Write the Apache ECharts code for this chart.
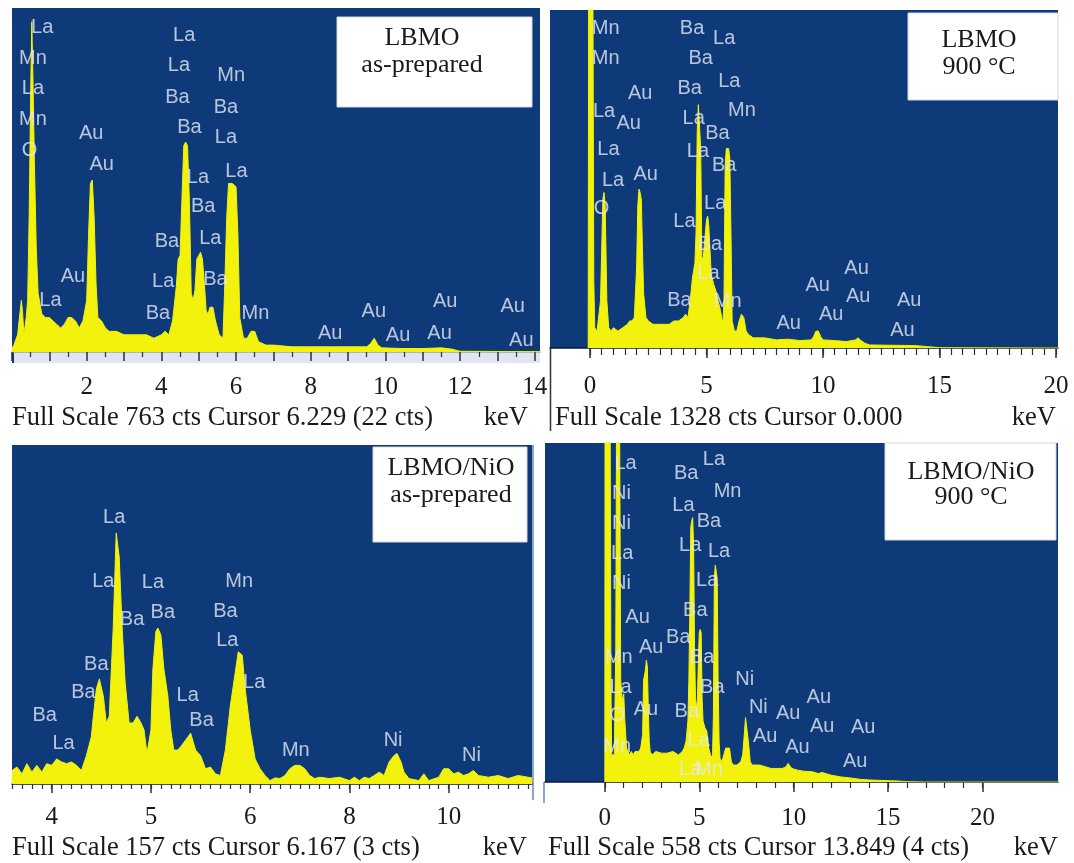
<!DOCTYPE html>
<html>
<head>
<meta charset="utf-8">
<title>EDS spectra</title>
<script src="https://cdn.jsdelivr.net/npm/echarts@6.0.0/dist/echarts.min.js"></script>
<style>
  html, body { margin: 0; padding: 0; background: #fff; }
  #chart { width: 1074px; height: 863px; }
</style>
</head>
<body>
<div id="chart"></div>
<script>
const BLUE = '#0e3a7a';
const YELLOW = '#f2f20c';
const INK = '#1a1a1a';

// spectra, [keV, % of full scale]
const lbmoPrepared = [
  [0, 1], [0.05, 2], [0.15, 5], [0.22, 12], [0.25, 15], [0.28, 12], [0.32, 5], [0.38, 10],
  [0.42, 15], [0.46, 40], [0.5, 75], [0.53, 96], [0.56, 80], [0.6, 55], [0.65, 30], [0.7, 17],
  [0.8, 11], [0.9, 10], [1.0, 10], [1.1, 9], [1.2, 8], [1.3, 7], [1.4, 8], [1.5, 10], [1.6, 10],
  [1.7, 9], [1.8, 7], [1.9, 9], [2.0, 15], [2.05, 34], [2.1, 49], [2.15, 50], [2.2, 39],
  [2.25, 20], [2.3, 10], [2.4, 9], [2.5, 7], [2.6, 6], [2.8, 6], [3.0, 5], [3.2, 5], [3.4, 5],
  [3.6, 5], [3.8, 4], [4.0, 5], [4.1, 6], [4.2, 5], [4.3, 9], [4.4, 19], [4.45, 27], [4.5, 28],
  [4.55, 44], [4.6, 60], [4.65, 61], [4.7, 60], [4.75, 44], [4.8, 17], [4.85, 15], [4.9, 18],
  [4.95, 27], [5.0, 28], [5.05, 29], [5.1, 27], [5.15, 20], [5.2, 12], [5.25, 11], [5.3, 13],
  [5.38, 13], [5.45, 9], [5.55, 5], [5.65, 4], [5.7, 20], [5.75, 39], [5.8, 49], [5.85, 49],
  [5.9, 49], [5.95, 49], [6.0, 48], [6.05, 34], [6.1, 10], [6.2, 4], [6.3, 4], [6.4, 6],
  [6.5, 6], [6.55, 6], [6.6, 3], [6.8, 2], [7.0, 2], [7.5, 1.5], [8.0, 1.5], [8.5, 1.5],
  [9.0, 1.5], [9.5, 1.5], [9.6, 2.4], [9.7, 4], [9.75, 4], [9.8, 2], [9.9, 1.2], [10.5, 1],
  [11.0, 1], [11.5, 1.2], [11.8, 0.8], [12.0, 0.2], [14.14, 0.1]
];
const lbmo900 = [
  [-0.08, 0], [-0.06, 110], [0.12, 110], [0.16, 20], [0.2, 6], [0.3, 5], [0.45, 14], [0.55, 44],
  [0.6, 46], [0.65, 42], [0.72, 14], [0.8, 6], [0.9, 5], [1.0, 6], [1.2, 5], [1.4, 6], [1.6, 7],
  [1.7, 8], [1.8, 8], [1.9, 9], [2.0, 24], [2.05, 42], [2.1, 47], [2.15, 46], [2.2, 44],
  [2.25, 29], [2.3, 16], [2.4, 9], [2.5, 8], [2.7, 7], [3.0, 7], [3.2, 7], [3.4, 7], [3.6, 8],
  [3.8, 8], [4.0, 9], [4.1, 10], [4.2, 9], [4.3, 14], [4.4, 21], [4.5, 25], [4.55, 34],
  [4.6, 64], [4.65, 72], [4.7, 72], [4.75, 59], [4.8, 27], [4.85, 26], [4.9, 30], [4.95, 34],
  [5.0, 38], [5.05, 39], [5.1, 36], [5.2, 22], [5.3, 19], [5.4, 17], [5.5, 14], [5.6, 11],
  [5.7, 7], [5.75, 14], [5.8, 54], [5.85, 59], [5.9, 59], [5.95, 59], [6.0, 56], [6.05, 34],
  [6.1, 8], [6.2, 5], [6.3, 5], [6.4, 8], [6.5, 10], [6.6, 9], [6.7, 5], [6.8, 4], [7.0, 3],
  [7.5, 3], [8.0, 2.4], [8.5, 2.6], [9.0, 2.2], [9.5, 2.4], [9.6, 3.4], [9.7, 5], [9.8, 5],
  [9.9, 3.4], [10.0, 2.4], [10.5, 2.2], [11.0, 1.9], [11.4, 2.4], [11.5, 3], [11.6, 2.4],
  [11.8, 1.4], [12.0, 0.9], [13.0, 0.8], [14.0, 0.7], [14.5, 0.4], [15.0, 0.1], [20.09, 0]
];
const nioPrepared = [
  [3.6, 4], [3.65, 5], [3.7, 3], [3.75, 6], [3.8, 3.5], [3.85, 5.5], [3.9, 3.5], [3.95, 6],
  [4.0, 5.5], [4.05, 7.4], [4.1, 6.5], [4.15, 6], [4.2, 6.5], [4.25, 5.5], [4.3, 4], [4.35, 8.4],
  [4.4, 14], [4.42, 20], [4.45, 28], [4.48, 31], [4.52, 26], [4.55, 18], [4.58, 20], [4.62, 46],
  [4.65, 74], [4.68, 67], [4.71, 46], [4.74, 30], [4.78, 18], [4.82, 18], [4.86, 20], [4.9, 18],
  [4.93, 16], [4.96, 9], [5.0, 16], [5.02, 34], [5.05, 45], [5.07, 46], [5.1, 44], [5.13, 34],
  [5.17, 26], [5.2, 16], [5.23, 10], [5.27, 10], [5.3, 11], [5.35, 13], [5.4, 15], [5.45, 10],
  [5.5, 8.4], [5.55, 4.5], [5.6, 5], [5.65, 3], [5.7, 2.5], [5.75, 10], [5.8, 23], [5.85, 33],
  [5.88, 39], [5.92, 38], [5.95, 28], [6.0, 16], [6.05, 7.4], [6.1, 4.5], [6.15, 2.5], [6.2, 1],
  [6.25, 1.8], [6.3, 1.6], [6.35, 2.5], [6.4, 4.5], [6.45, 5.5], [6.5, 5.5], [6.55, 4.5],
  [6.6, 2.5], [6.65, 1.6], [6.7, 2], [6.8, 1.6], [6.9, 2], [7.0, 1], [7.05, 2], [7.1, 1],
  [7.15, 2], [7.2, 1.6], [7.25, 2.5], [7.3, 3.5], [7.35, 2.5], [7.4, 6.5], [7.45, 8.4], [7.48, 9],
  [7.52, 6.5], [7.55, 3.5], [7.6, 1.6], [7.7, 1], [7.75, 3], [7.8, 1], [7.9, 2], [7.95, 4.5],
  [8.0, 4.5], [8.05, 3], [8.1, 3.5], [8.15, 2.5], [8.2, 3], [8.25, 4], [8.3, 2.5], [8.4, 2],
  [8.5, 2.5], [8.6, 1.6], [8.7, 2.5], [8.8, 2], [8.84, 1.8]
];
const nio900 = [
  [0, 0], [0.01, 110], [0.28, 110], [0.32, 30], [0.36, 8], [0.5, 8], [0.58, 40], [0.62, 110],
  [0.78, 110], [0.84, 30], [0.92, 24], [1.0, 26], [1.06, 18], [1.15, 10], [1.3, 8], [1.4, 9],
  [1.5, 8], [1.6, 9], [1.7, 8.5], [1.8, 9], [1.9, 10], [2.0, 14], [2.05, 30], [2.15, 33],
  [2.2, 36], [2.25, 34], [2.3, 22], [2.35, 12], [2.4, 9], [2.5, 8], [2.7, 9], [3.0, 8.5],
  [3.3, 8.5], [3.6, 9], [3.9, 8], [4.1, 9], [4.2, 10], [4.3, 12], [4.4, 18], [4.45, 30],
  [4.5, 50], [4.55, 75], [4.6, 77], [4.65, 78], [4.7, 70], [4.75, 40], [4.8, 25], [4.85, 22],
  [4.9, 24], [4.95, 35], [5.0, 44], [5.05, 45], [5.1, 44], [5.15, 25], [5.2, 18], [5.3, 16],
  [5.4, 15], [5.5, 10], [5.6, 8], [5.7, 7], [5.75, 20], [5.8, 60], [5.85, 64], [5.9, 64],
  [5.95, 60], [6.0, 30], [6.05, 12], [6.1, 7], [6.2, 6], [6.3, 8], [6.4, 10], [6.5, 10],
  [6.6, 10], [6.7, 6], [6.8, 5], [7.0, 5], [7.2, 6], [7.3, 8], [7.4, 15], [7.45, 19], [7.5, 19],
  [7.55, 19], [7.6, 12], [7.7, 6], [7.8, 5], [8.0, 5], [8.2, 5], [8.3, 5.5], [8.5, 4.5],
  [8.8, 4], [9.0, 4], [9.4, 4], [9.6, 4.5], [9.7, 5.5], [9.8, 5.5], [9.9, 4], [10.2, 3.5],
  [10.5, 3.2], [11.0, 3], [11.3, 2.5], [11.5, 2.8], [12.0, 2], [12.5, 1.5], [13.0, 1.2],
  [13.5, 0.8], [14.0, 0.6], [15.0, 0.4], [15.5, 0.3], [16, 0.1], [17, 0], [24, 0]
];

// peak labels, [element, keV, % of full scale]
const lbmoPreparedLabels = [
  ['La', 0.81, 94.3], ['Mn', 0.56, 85.3], ['La', 0.56, 76.5], ['Mn', 0.56, 67.7], ['O', 0.47, 58.5],
  ['Au', 2.12, 63.4], ['Au', 2.4, 54.6], ['La', 4.61, 92.1], ['La', 4.47, 83.3], ['Ba', 4.43, 74.1],
  ['Ba', 4.75, 65.3], ['Mn', 5.87, 80.4], ['Ba', 5.73, 71.2], ['La', 5.73, 62.4], ['La', 6.01, 52.6],
  ['La', 4.98, 50.7], ['Ba', 5.12, 42.4], ['La', 5.31, 33.1], ['Ba', 4.15, 32.2], ['Ba', 5.45, 21.0],
  ['La', 4.05, 20.5], ['Ba', 3.91, 11.2], ['Au', 1.63, 21.9], ['La', 1.03, 15.1], ['Mn', 6.52, 11.2],
  ['Au', 8.52, 5.4], ['Au', 9.69, 11.7], ['Au', 10.34, 4.9], ['Au', 11.6, 14.6], ['Au', 11.45, 5.4],
  ['Au', 13.41, 13.2], ['Au', 13.64, 3.4]
];
const lbmo900Labels = [
  ['Mn', 0.67, 94.6], ['Mn', 0.67, 85.7], ['La', 0.6, 69.9], ['Au', 1.66, 66.5], ['La', 0.79, 58.6],
  ['La', 0.99, 49.7], ['O', 0.49, 41.3], ['Au', 2.15, 75.3], ['Au', 2.39, 51.2], ['Ba', 4.38, 94.6],
  ['La', 5.76, 91.6], ['Ba', 4.75, 85.7], ['Ba', 4.28, 76.8], ['La', 5.98, 78.8], ['Mn', 6.52, 70.4],
  ['La', 4.45, 67.9], ['Ba', 5.47, 63.5], ['La', 4.63, 58.1], ['Ba', 5.76, 54.1], ['La', 5.37, 42.8],
  ['La', 4.05, 37.4], ['Ba', 5.15, 30.5], ['La', 5.08, 22.1], ['Ba', 3.84, 14.2], ['Mn', 5.91, 13.7],
  ['Au', 8.53, 7.3], ['Au', 9.77, 18.6], ['Au', 10.35, 9.8], ['Au', 11.44, 23.6], ['Au', 11.51, 15.2],
  ['Au', 13.7, 14.2], ['Au', 13.41, 5.3]
];
const nioPreparedLabels = [
  ['La', 4.63, 78.5], ['La', 4.52, 59.8], ['La', 5.02, 59.4], ['Ba', 4.81, 48.6], ['Ba', 5.12, 50.5],
  ['Mn', 5.89, 59.8], ['Ba', 5.75, 51.0], ['La', 5.77, 42.2], ['La', 6.04, 30.0], ['Ba', 4.45, 35.4],
  ['Ba', 4.32, 27.0], ['La', 5.37, 26.1], ['Ba', 5.51, 18.7], ['Ba', 3.93, 20.2], ['La', 4.12, 11.9],
  ['Mn', 6.46, 9.9], ['Ni', 7.44, 12.8], ['Ni', 8.23, 8.4]
];
const nio900Labels = [
  ['La', 1.1, 94.1], ['Ni', 0.88, 85.2], ['Ni', 0.88, 76.3], ['La', 0.92, 67.4], ['Ni', 0.88, 58.5],
  ['Au', 1.73, 48.6], ['Au', 2.45, 39.7], ['Mn', 0.74, 36.8], ['La', 0.83, 27.9], ['O', 0.65, 19.5],
  ['Mn', 0.65, 10.6], ['Au', 2.18, 21.4], ['Ba', 4.31, 91.1], ['La', 5.78, 95.1], ['Mn', 6.5, 85.7],
  ['La', 4.16, 81.7], ['Ba', 5.51, 76.8], ['La', 4.52, 69.9], ['La', 6.05, 67.9], ['La', 5.42, 59.5],
  ['Ba', 4.79, 50.6], ['Ba', 3.89, 42.7], ['Ba', 5.15, 36.8], ['Ba', 5.69, 27.9], ['Ba', 4.34, 20.9],
  ['La', 4.97, 12.1], ['La', 4.52, 3.7], ['Mn', 5.51, 3.7], ['Ni', 7.41, 30.3], ['Ni', 8.13, 21.9],
  ['Au', 9.71, 20.2], ['Au', 11.33, 24.9], ['Au', 8.49, 13.5], ['Au', 10.2, 10.1], ['Au', 11.51, 16.5],
  ['Au', 13.68, 16.0], ['Au', 13.26, 6.1]
];

// axis labels
const lbmoPreparedTicks = [2, 4, 6, 8, 10, 12, 14];
const lbmo900Ticks = [0, 5, 10, 15, 20];
const nioPreparedTicks = [4, 5, 6, 7, 8];
const nioPreparedTickLabels = ['4', '5', '6', '8', '10'];
const nio900Ticks = [0, 5, 10, 15, 20];

const footers = [
  'Full Scale 763 cts Cursor 6.229 (22 cts)',
  'Full Scale 1328 cts Cursor 0.000',
  'Full Scale 157 cts Cursor 6.167 (3 cts)',
  'Full Scale 558 cts Cursor 13.849 (4 cts)'
];
const boxTitles = [
  ['LBMO', 'as-prepared'],
  ['LBMO', '900 °C'],
  ['LBMO/NiO', 'as-prepared'],
  ['LBMO/NiO', '900 °C']
];

function steps(from, to, step) {
  const out = [];
  for (let v = from; v <= to + 1e-9; v += step) out.push(Math.round(v * 100) / 100);
  return out;
}

const panels = [
  {
    grid: { left: 12, top: 8, width: 528, height: 344 }, min: 0, max: 14.14,
    data: lbmoPrepared, labels: lbmoPreparedLabels, ticks: lbmoPreparedTicks, tickLabels: null,
    major: steps(0, 14, 1), minor: steps(0.5, 13.5, 1), majorLen: 9, minorLen: 5, margin: 23,
    strip: [12, 352, 528, 11], box: [337, 17, 195, 90], boxText: [422, 38, 65],
    footer: [12, 418], kev: [528, 418]
  },
  {
    grid: { left: 550, top: 10, width: 508, height: 338 }, min: -1.72, max: 20.09,
    data: lbmo900, labels: lbmo900Labels, ticks: lbmo900Ticks, tickLabels: null,
    major: steps(0, 20, 5), minor: steps(0, 20, 0.5), majorLen: 10, minorLen: 7, margin: 26,
    strip: null, box: [908, 13, 150, 87], boxText: [979, 40, 67],
    footer: [555, 418], kev: [1056, 418]
  },
  {
    grid: { left: 12, top: 445, width: 520, height: 339 }, min: 3.6, max: 8.84,
    data: nioPrepared, labels: nioPreparedLabels, ticks: nioPreparedTicks, tickLabels: nioPreparedTickLabels,
    major: nioPreparedTicks, minor: steps(3.6, 8.8, 0.1), majorLen: 9, minorLen: 5, margin: 21,
    strip: null, box: [373, 447, 154, 95], boxText: [451, 468, 495],
    footer: [12, 848], kev: [527, 848]
  },
  {
    grid: { left: 545, top: 443, width: 513, height: 339 }, min: -3.17, max: 24,
    data: nio900, labels: nio900Labels, ticks: nio900Ticks, tickLabels: null,
    major: steps(0, 20, 5), minor: steps(0, 20, 1), majorLen: 10, minorLen: 6, margin: 24,
    strip: null, box: [885, 443, 171, 97], boxText: [971, 472, 497],
    footer: [548, 848], kev: [1058, 848]
  }
];

const grids = [];
const xAxes = [];
const yAxes = [];
const series = [];
const graphics = [];

panels.forEach((p, i) => {
  grids.push(Object.assign({ show: true, backgroundColor: BLUE, borderWidth: 0 }, p.grid));
  xAxes.push({
    gridIndex: i, type: 'value', min: p.min, max: p.max, position: 'bottom',
    axisLine: { show: true, onZero: false, lineStyle: { color: p.strip ? '#9aa3bf' : '#0b1a3c', width: 1.5 } },
    axisTick: { show: true, customValues: p.major, length: p.majorLen, lineStyle: { color: '#2b2f36', width: 1.5 } },
    axisLabel: {
      show: true, customValues: p.ticks, margin: p.margin, color: INK,
      fontFamily: 'Liberation Serif', fontSize: 25,
      formatter: v => {
        if (!p.tickLabels) return String(v);
        const k = p.ticks.indexOf(v);
        return k >= 0 ? p.tickLabels[k] : '';
      }
    },
    splitLine: { show: false }
  });
  xAxes.push({
    gridIndex: i, type: 'value', min: p.min, max: p.max, position: 'bottom',
    axisLine: { show: false, onZero: false },
    axisTick: { show: true, customValues: p.minor, length: p.minorLen, lineStyle: { color: '#2b2f36', width: 1.2 } },
    axisLabel: { show: false },
    splitLine: { show: false }
  });
  yAxes.push({ gridIndex: i, type: 'value', min: 0, max: 100, show: false });

  series.push({
    type: 'line', xAxisIndex: 2 * i, yAxisIndex: i, data: p.data,
    symbol: 'none', showSymbol: false, clip: true, silent: true,
    lineStyle: { color: YELLOW, width: 1 },
    areaStyle: { color: YELLOW, opacity: 1 },
    z: 2
  });
  series.push({
    type: 'scatter', xAxisIndex: 2 * i, yAxisIndex: i, symbolSize: 1, silent: true,
    itemStyle: { color: 'rgba(0,0,0,0)' },
    data: p.labels.map(l => ({ name: l[0], value: [l[1], l[2]] })),
    label: {
      show: true, position: 'inside', formatter: '{b}', color: '#e3e8f2',
      fontFamily: 'Liberation Sans', fontSize: 20
    },
    z: 5
  });

  if (p.strip) {
    graphics.push({
      type: 'rect', z: -1, silent: true,
      shape: { x: p.strip[0], y: p.strip[1], width: p.strip[2], height: p.strip[3] },
      style: { fill: '#e2e5f1' }
    });
    graphics.push({
      type: 'rect', z: -1, silent: true,
      shape: { x: p.strip[0], y: p.strip[1], width: 2, height: p.strip[3] },
      style: { fill: BLUE }
    });
  }
  graphics.push({
    type: 'rect', z: 10, silent: true,
    shape: { x: p.box[0], y: p.box[1], width: p.box[2], height: p.box[3] },
    style: { fill: '#ffffff', stroke: '#d4d7dd', lineWidth: 1 }
  });
  boxTitles[i].forEach((t, k) => {
    graphics.push({
      type: 'text', z: 11, silent: true,
      style: {
        text: t, x: p.boxText[0], y: p.boxText[k + 1], fill: INK,
        font: '26px "Liberation Serif"', textAlign: 'center', textVerticalAlign: 'middle'
      }
    });
  });
  graphics.push({
    type: 'text', z: 11, silent: true,
    style: {
      text: footers[i], x: p.footer[0], y: p.footer[1], fill: INK,
      font: '26.5px "Liberation Serif"', textAlign: 'left', textVerticalAlign: 'middle'
    }
  });
  graphics.push({
    type: 'text', z: 11, silent: true,
    style: {
      text: 'keV', x: p.kev[0], y: p.kev[1], fill: INK,
      font: '26.5px "Liberation Serif"', textAlign: 'right', textVerticalAlign: 'middle'
    }
  });
});

// frame bits between the panels
graphics.push({
  type: 'line', silent: true,
  shape: { x1: 550.5, y1: 348, x2: 550.5, y2: 431 },
  style: { stroke: '#333', lineWidth: 1.5 }
});
graphics.push({
  type: 'line', silent: true,
  shape: { x1: 544, y1: 782, x2: 544, y2: 803 },
  style: { stroke: '#8ea6cc', lineWidth: 2 }
});
graphics.push({
  type: 'line', silent: true,
  shape: { x1: 533, y1: 445, x2: 533, y2: 800 },
  style: { stroke: '#8ea6cc', lineWidth: 2 }
});

const chart = echarts.init(document.getElementById('chart'), null, { renderer: 'canvas' });
chart.setOption({
  animation: false,
  backgroundColor: '#ffffff',
  grid: grids,
  xAxis: xAxes,
  yAxis: yAxes,
  series: series,
  graphic: { elements: graphics }
});
</script>
</body>
</html>
